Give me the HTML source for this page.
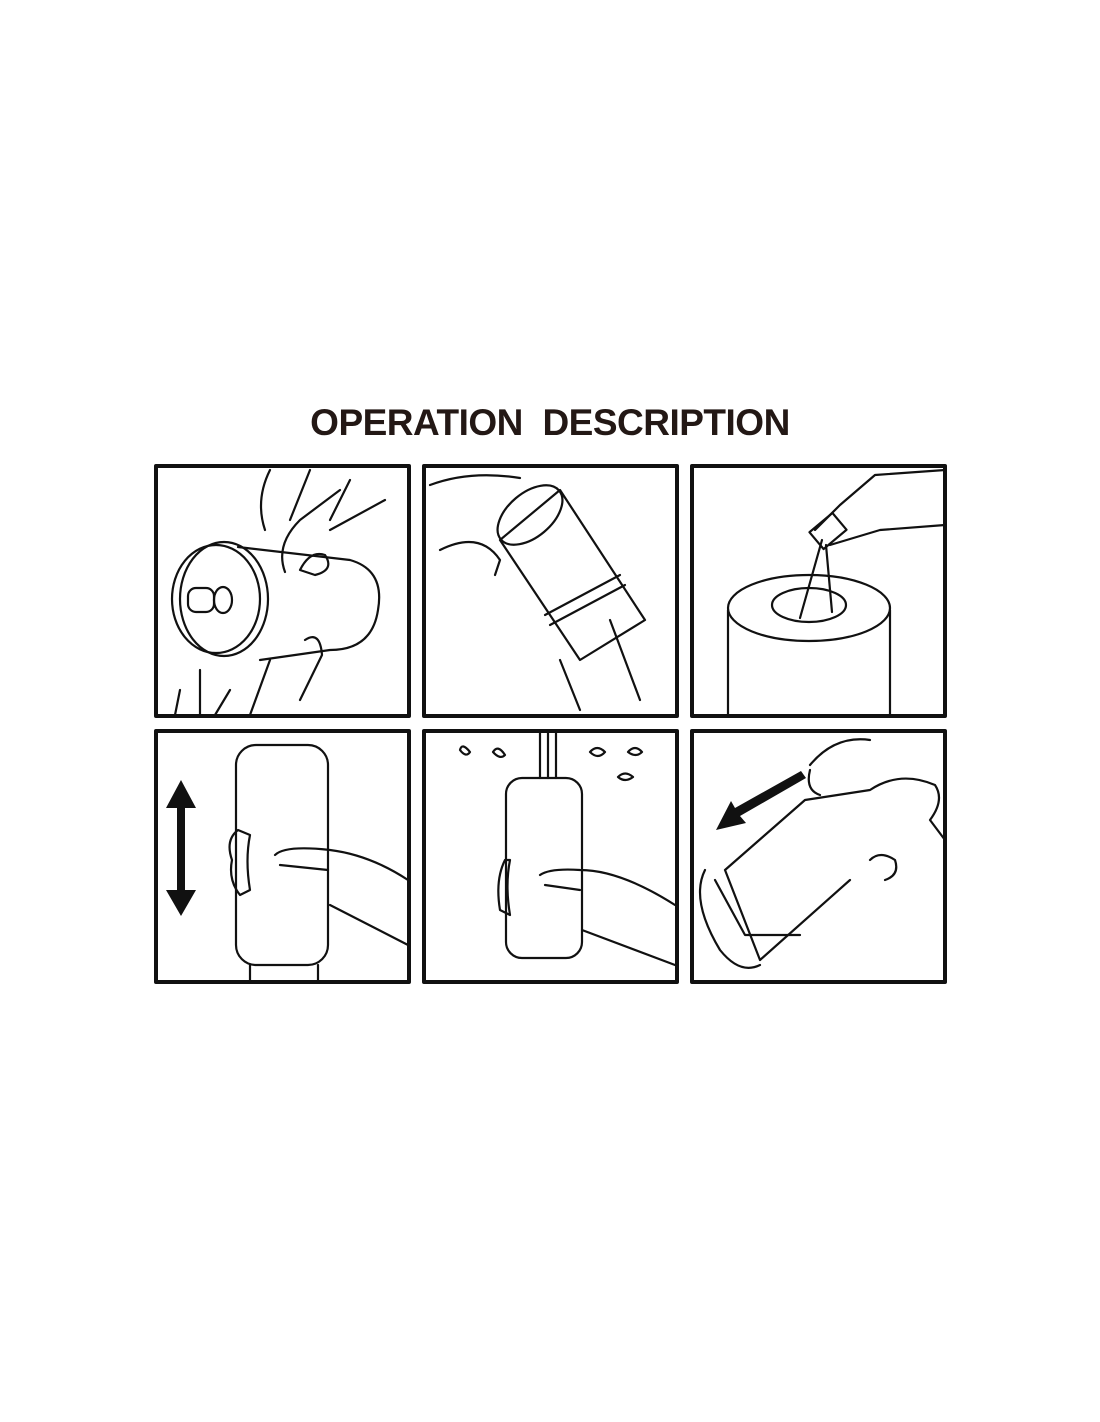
<!DOCTYPE html>
<html><head><meta charset="utf-8"><style>
html,body{margin:0;padding:0;background:#fff;}
body{width:1100px;height:1422px;position:relative;overflow:hidden;}
.t{position:absolute;left:0;width:1100px;top:402px;text-align:center;font-family:"Liberation Sans",sans-serif;font-weight:bold;font-size:37px;color:#231815;letter-spacing:-0.5px;}
svg{position:absolute;left:0;top:0;}
</style></head><body>
<div class="t">OPERATION&nbsp;&nbsp;DESCRIPTION</div>
<svg width="1100" height="1422" viewBox="0 0 1100 1422" fill="none" stroke="#111" stroke-linecap="round" stroke-linejoin="round">
<g stroke-width="4">
<rect x="156" y="466" width="253" height="250"/>
<rect x="424" y="466" width="253" height="250"/>
<rect x="692" y="466" width="253" height="250"/>
<rect x="156" y="731" width="253" height="251"/>
<rect x="424" y="731" width="253" height="251"/>
<rect x="692" y="731" width="253" height="251"/>
</g>
<g stroke-width="2.2">
<!-- panel 1 -->
<ellipse cx="216" cy="599" rx="44" ry="54"/>
<ellipse cx="224" cy="599" rx="44" ry="57"/>
<path d="M238 547 L350 560 Q385 570 378 610 Q372 650 330 650 L260 660"/>
<rect x="188" y="588" width="26" height="24" rx="8"/>
<ellipse cx="223" cy="600" rx="9" ry="13"/>
<path d="M285 572 Q275 545 300 520 L340 490 M330 530 L385 500 M300 570 Q310 550 325 555 Q335 570 315 575 Z"/>
<path d="M270 470 Q255 500 265 530 M310 470 L290 520 M350 480 L330 520"/>
<path d="M305 640 Q320 630 322 655 L300 700 M180 690 L175 715 M200 670 L200 715 M230 690 L215 715 M270 660 L250 715"/>
<!-- panel 2 -->
<path d="M500 540 L560 490 L645 620 L580 660 Z"/>
<ellipse cx="530" cy="515" rx="38" ry="22" transform="rotate(-40 530 515)"/>
<path d="M545 615 L620 575 M550 625 L625 585"/>
<path d="M430 485 Q470 470 520 478 M440 550 Q480 530 500 560 L495 575 M560 660 L580 710 M610 620 L640 700"/>
<!-- panel 3 -->
<path d="M728 715 L728 610 M890 610 L890 715"/>
<ellipse cx="809" cy="608" rx="81" ry="33"/>
<ellipse cx="809" cy="605" rx="37" ry="17"/>
<path d="M822 540 L800 618 M826 545 L832 612"/>
<path d="M815 530 L840 505 L875 475 L945 470 M830 545 L880 530 L945 525"/>
<rect x="813" y="520" width="30" height="22" transform="rotate(-40 828 531)"/>
<!-- panel 4 -->
<rect x="236" y="745" width="92" height="220" rx="20"/>
<path d="M250 965 L250 982 M318 965 L318 982"/>
<path d="M275 855 Q285 845 330 850 Q370 855 408 880 M280 865 L328 870 M330 905 L408 945"/>
<path d="M238 830 Q225 840 232 860 Q228 880 240 895 L250 890 Q245 860 250 835 Z"/>
<!-- panel 5 -->
<rect x="506" y="778" width="76" height="180" rx="16"/>
<path d="M540 733 L540 778 M548 733 L548 778 M556 733 L556 778"/>
<path d="M540 875 Q550 868 580 870 Q620 870 675 905 M545 885 L580 890 M582 930 L675 965"/>
<path d="M505 860 Q495 880 500 910 L510 915 Q505 885 510 860 Z"/>
<path d="M460 750 Q462 742 470 752 Q466 758 460 750 Z M493 752 Q498 744 505 755 Q500 760 493 752 Z M590 752 Q597 744 605 752 Q598 760 590 752 Z M628 752 Q635 744 642 752 Q636 758 628 752 Z M618 777 Q625 770 633 777 Q625 783 618 777 Z"/>
<!-- panel 6 -->
<path d="M725 870 L805 800 L870 790 Q900 770 935 785 Q945 800 930 820 L945 840 M760 960 L850 880 M725 870 L760 960"/>
<path d="M705 870 Q690 900 720 950 Q740 975 760 965 M715 880 L745 935 L800 935"/>
<path d="M810 765 Q835 735 870 740 M810 770 Q805 790 820 795 M870 860 Q880 850 895 860 Q900 875 885 880"/>
</g>
<g fill="#111" stroke="none">
<polygon points="181,780 166,808 177,808 177,890 166,890 181,916 196,890 185,890 185,808 196,808"/>
<polygon points="716,830 746,823 740,816 806,778 801,771 735,808 731,801"/>
</g>
</svg>
</body></html>
